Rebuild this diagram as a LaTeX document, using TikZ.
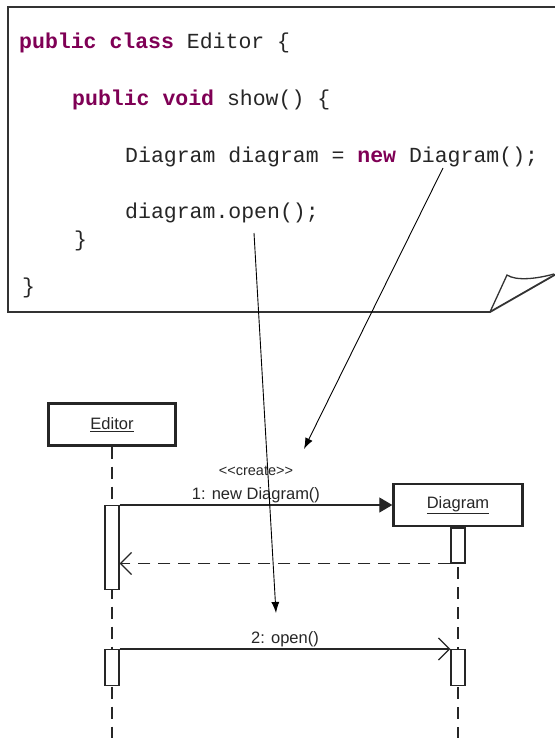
\documentclass[tikz,border=0pt]{standalone}
\usepackage{fontspec}
\setmainfont{Liberation Sans}
\setsansfont{Liberation Sans}
\newfontfamily\codefont{Liberation Mono}
\usetikzlibrary{arrows.meta,calc,positioning}
\definecolor{Ink}{HTML}{262626}
\definecolor{Keyword}{HTML}{7F0055}
\definecolor{NoteLine}{HTML}{333333}
\newcommand{\kw}[1]{\textcolor{Keyword}{\bfseries #1}}
\tikzset{
  codeline/.style={anchor=base west, inner sep=0pt,
    font=\codefont\fontsize{21.5}{24}\selectfont, text=Ink},
  lifebox/.style={draw=Ink, line width=2.4pt, minimum height=42pt,
    inner sep=0pt, font=\fontsize{16.5}{18}\selectfont, text=Ink},
  actbar/.style={draw=Ink, line width=1.3pt, fill=white,
    minimum width=14pt, inner sep=0pt},
  lifeline/.style={draw=Ink, line width=1.3pt, dash pattern=on 12pt off 8pt},
  msglabel/.style={font=\fontsize{16.5}{18}\selectfont, text=Ink, inner sep=1.5pt},
  pointer/.style={-{Latex[length=11pt,width=8pt]}, line width=0.9pt, draw=black},
}

\begin{document}
\begin{tikzpicture}[x=1pt,y=-1pt]
  \useasboundingbox (0,0) rectangle (554,738);

  % code note with folded corner
  \draw[NoteLine, line width=1.8pt] (560,7) -- (8,7) -- (8,312) -- (490,312) -- (565,269);
  \draw[NoteLine, line width=1.3pt] (490,312) -- (507,275)
    .. controls (516,281) and (536,279) .. (554,274);

  \node[codeline] (line1) at (19,49) {\kw{public class} Editor \{};
  \node[codeline] (line2) at (72,106) {\kw{public void} show() \{};
  \node[codeline] (line3) at (125,163) {Diagram diagram = \kw{new} Diagram();};
  \node[codeline] (line4) at (125,218) {diagram.open();};
  \node[codeline] (line5) at (74,246) {\}};
  \node[codeline] (line6) at (22,293) {\}};

  % lifelines
  \coordinate (bottom) at (0,740);
  \node[lifebox, minimum width=127pt] (editor) at (112,424.5) {\underline{Editor}};
  \node[lifebox, minimum width=129pt] (diagram) at (458,505) {\underline{Diagram}};
  \draw[lifeline] (editor.south) -- (editor.south |- bottom);
  \draw[lifeline] (diagram.south) -- (diagram.south |- bottom);

  \node[actbar, minimum height=84pt, anchor=north] (edAct1) at (112,505) {};
  \node[actbar, minimum height=36pt, anchor=north] (edAct2) at (112,649) {};
  \node[actbar, minimum height=35pt, anchor=north] (dgAct1) at (diagram.south) {};
  \node[actbar, minimum height=36pt, anchor=north] (dgAct2) at (458,649) {};

  % messages
  \draw[Ink, line width=1.3pt, -{Triangle[length=13pt,width=15pt]}]
    (edAct1.north east) -- (diagram.west)
    node[msglabel, midway, above, align=center] (msgNew)
      {{\fontsize{14.5}{16}\selectfont {<}{<}create{>}{>}}\\[6pt]1: new Diagram()};
  \draw[Ink, line width=1.3pt, dash pattern=on 12pt off 8pt,
    -{Straight Barb[length=11pt,width=22pt,line width=1.3pt]}]
    (dgAct1.south west) -- (edAct1.east |- dgAct1.south);
  \draw[Ink, line width=1.3pt, -{Straight Barb[length=11pt,width=22pt,line width=1.3pt]}]
    (edAct2.north east) -- (dgAct2.north west)
    node[msglabel, midway, above] (msgOpen) {2: open()};

  % pointers from the code
  \coordinate (newTail) at (443,168);
  \coordinate (newHead) at (304,449);
  \coordinate (openTail) at (254,233);
  \coordinate (openHead) at (276,613);
  \draw[pointer] (newTail) -- (newHead);
  \draw[pointer] (openTail) -- (openHead);
\end{tikzpicture}
\end{document}
